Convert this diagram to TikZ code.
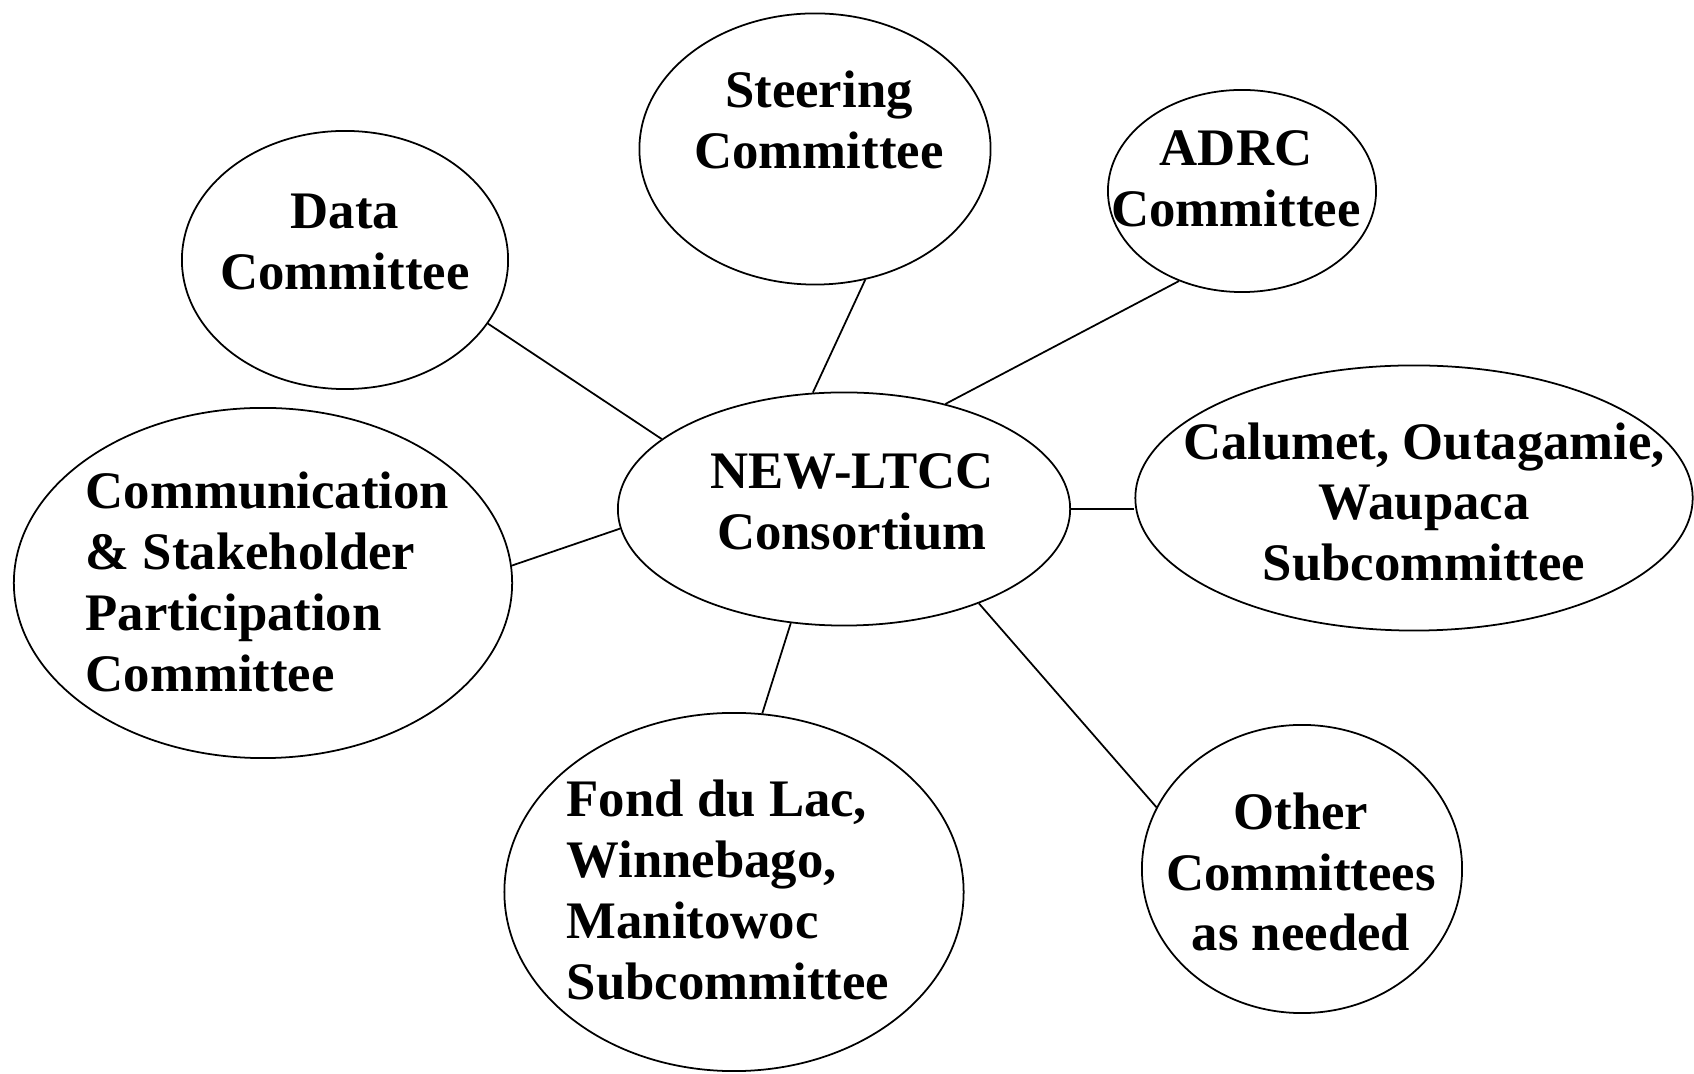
\documentclass[tikz,border=0pt]{standalone}
\usepackage{fontspec}
\setmainfont{Liberation Serif}
\usetikzlibrary{positioning}
\usetikzlibrary{shapes.geometric}

\begin{document}
\begin{tikzpicture}[x=0.01cm, y=-0.01cm,
    bubble/.style={draw, ellipse, inner sep=0pt, line width=0.5pt},
    words/.style={inner sep=0pt, align=center, font=\fontsize{15}{17.3}\selectfont\bfseries},
    link/.style={line width=0.5pt}]
  \useasboundingbox (0,0) rectangle (1694,1074);

  % the bubbles
  \node [bubble, minimum width=4.52cm, minimum height=2.33cm] (consortium) at (844,509) {};
  \node [bubble, minimum width=3.51cm, minimum height=2.71cm] (steering) at (815,149) {};
  \node [bubble, minimum width=2.68cm, minimum height=2.02cm] (adrc) at (1242,191) {};
  \node [bubble, minimum width=3.26cm, minimum height=2.58cm] (data) at (345,260) {};
  \node [bubble, minimum width=4.98cm, minimum height=3.50cm] (comm) at (263,583) {};
  \node [bubble, minimum width=5.57cm, minimum height=2.65cm] (calumet) at (1414,498) {};
  \node [bubble, minimum width=4.59cm, minimum height=3.58cm] (fond) at (734,892) {};
  \node [bubble, minimum width=3.20cm, minimum height=2.88cm] (other) at (1302,869) {};

  % their texts
  \node [words] (consortiumtxt) at (852,502) {NEW-LTCC\\Consortium};
  \node [words] (steeringtxt) at (819,120) {Steering\\Committee};
  \node [words] (adrctxt) at (1236,179) {ADRC\\Committee};
  \node [words] (datatxt) at (345,242) {Data\\Committee};
  \node [words, align=left, anchor=west] (commtxt) at (85,582)
    {Communication\\\& Stakeholder\\Participation\\Committee};
  \node [words] (calumettxt) at (1424,502) {Calumet, Outagamie,\\Waupaca\\Subcommittee};
  \node [words, align=left, anchor=west] (fondtxt) at (566,890)
    {Fond du Lac,\\Winnebago,\\Manitowoc\\Subcommittee};
  \node [words] (othertxt) at (1301,872) {Other\\Committees\\as needed};

  % spokes
  \draw [link] (consortium.159) -- (data.-24);
  \draw [link] (consortium.105) -- (steering.-69);
  \draw [link] (consortium.46) -- (adrc.235);
  \draw [link] (consortium.east) -- (consortium.east -| calumet.west);
  \draw [link] (consortium.185) -- (comm.4.5);
  \draw [link] (consortium.245) -- (fond.81);
  \draw [link] (consortium.-35) -- (other.157);
\end{tikzpicture}
\end{document}
